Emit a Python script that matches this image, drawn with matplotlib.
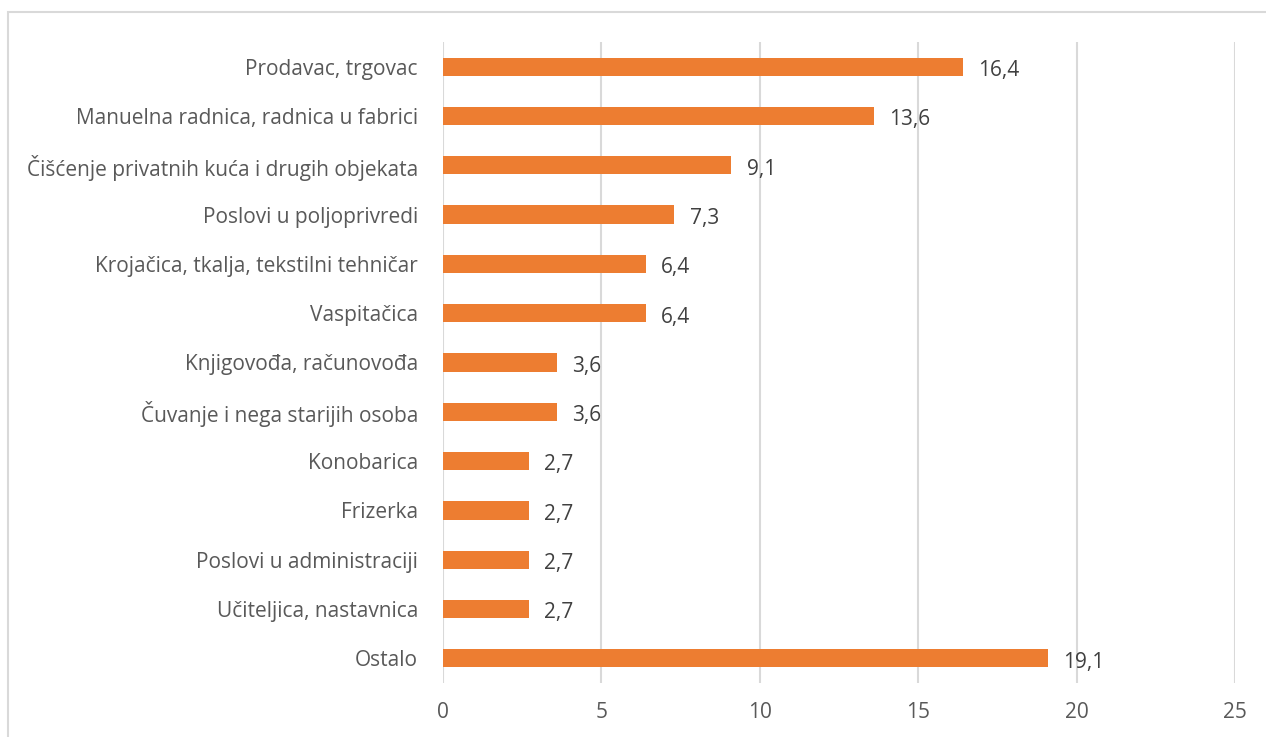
import matplotlib.pyplot as plt
from matplotlib.patches import Rectangle

# ----- Data -----
categories = [
    "Prodavac, trgovac",
    "Manuelna radnica, radnica u fabrici",
    "Čišćenje privatnih kuća i drugih objekata",
    "Poslovi u poljoprivredi",
    "Krojačica, tkalja, tekstilni tehničar",
    "Vaspitačica",
    "Knjigovođa, računovođa",
    "Čuvanje i nega starijih osoba",
    "Konobarica",
    "Frizerka",
    "Poslovi u administraciji",
    "Učiteljica, nastavnica",
    "Ostalo",
]
values = [16.4, 13.6, 9.1, 7.3, 6.4, 6.4, 3.6, 3.6, 2.7, 2.7, 2.7, 2.7, 19.1]
x_ticks = [0, 5, 10, 15, 20, 25]

# ----- Style -----
plt.rcParams["font.family"] = ["Open Sans", "DejaVu Sans"]
BAR_COLOR = "#ED7D31"
GRID_COLOR = "#D9D9D9"
TEXT_COLOR = "#595959"
LABEL_COLOR = "#404040"
FONT_SIZE = 15

fig = plt.figure(figsize=(12.66, 7.37), dpi=100)
ax = fig.add_axes([0.3499, 0.0733, 0.6256, 0.8697])

positions = list(range(len(categories)))
bars = ax.barh(positions, values, height=0.37, color=BAR_COLOR, zorder=3)

for bar, val in zip(bars, values):
    ax.annotate(
        f"{val:.1f}".replace(".", ","),
        xy=(bar.get_width(), bar.get_y() + bar.get_height() / 2),
        xytext=(11, -1),
        textcoords="offset points",
        va="center_baseline",
        ha="left",
        fontsize=FONT_SIZE,
        color=LABEL_COLOR,
        zorder=4,
    )

ax.set_yticks(positions)
ax.set_yticklabels(categories)
ax.set_ylim(len(categories) - 0.5, -0.5)
ax.set_xlim(0, 25)
ax.set_xticks(x_ticks)

ax.grid(axis="x", color=GRID_COLOR, linewidth=1.5, zorder=0)
for spine in ax.spines.values():
    spine.set_visible(False)
ax.tick_params(axis="both", length=0, labelsize=FONT_SIZE, labelcolor=TEXT_COLOR)
ax.tick_params(axis="y", pad=18)
ax.tick_params(axis="x", pad=14)

# outer chart-area frame
fig.patches.append(
    Rectangle(
        (8 / 1266, -0.05), 1.2, 1 - 12 / 737 + 0.05,
        transform=fig.transFigure, fill=False,
        edgecolor="#D9D9D9", linewidth=1.5, zorder=0,
    )
)

fig.savefig("out.png", dpi=100)
